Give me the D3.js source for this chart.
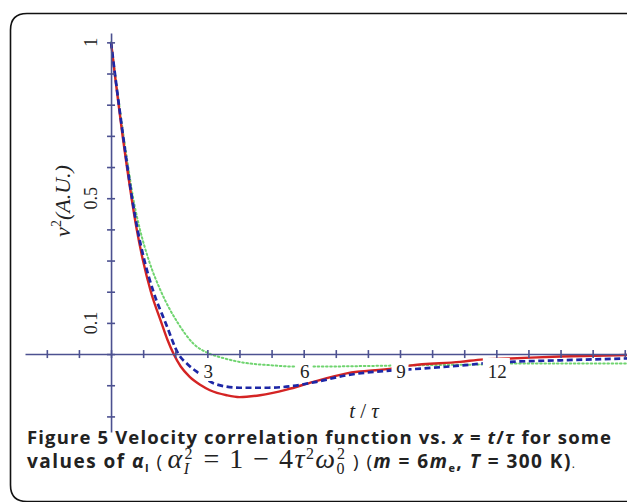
<!DOCTYPE html>
<html>
<head>
<meta charset="utf-8">
<script src="https://cdn.jsdelivr.net/npm/d3@7"></script>
<style>
  html, body { margin: 0; padding: 0; background: #fff; }
  svg { display: block; }
</style>
</head>
<body>
<svg id="chart" width="627" height="502"></svg>
<script>
// values (t in units of tau, v^2 in A.U.)
const tRed   = [0, 0.115, 0.235, 0.36, 0.495, 0.64, 0.8, 0.995, 1.24, 1.57, 1.76, 1.95, 2.17, 2.45, 2.8, 3.08, 3.6, 4.0, 4.64, 5.47, 6.3, 7.34, 8.8, 9.3, 10.87, 11.6, 12.43, 14, 16.07]
const vRed   = [1, 0.9, 0.8, 0.7, 0.6, 0.5, 0.4, 0.3, 0.2, 0.1, 0.045, 0, -0.04, -0.073, -0.1, -0.116, -0.132, -0.138, -0.132, -0.114, -0.089, -0.062, -0.046, -0.037, -0.025, -0.017, -0.014, -0.008, -0.003]

const tBlue  = [0, 0.12, 0.245, 0.375, 0.51, 0.655, 0.825, 1.04, 1.32, 1.7, 2.1, 2.4, 2.74, 3.24, 4.0, 4.9, 5.68, 6.4, 7.34, 8.8, 9.3, 10.87, 11.6, 12.43, 14, 16.07]
const vBlue  = [1, 0.9, 0.8, 0.7, 0.6, 0.5, 0.4, 0.3, 0.2, 0.1, 0, -0.034, -0.062, -0.096, -0.108, -0.108, -0.102, -0.089, -0.068, -0.052, -0.049, -0.037, -0.03, -0.025, -0.02, -0.014]

const tGreen = [0, 0.125, 0.255, 0.39, 0.535, 0.69, 0.9, 1.18, 1.56, 2.08, 2.56, 3.1, 3.5, 4.1, 5.0, 5.7, 6.4, 8.7, 9.3, 11.6, 12.5, 14, 16.07]
const vGreen = [1, 0.9, 0.8, 0.7, 0.6, 0.5, 0.4, 0.3, 0.2, 0.1, 0.034, 0, -0.013, -0.027, -0.036, -0.04, -0.04, -0.037, -0.036, -0.033, -0.03, -0.03, -0.03]

const xTickValues = d3.range(-2, 17)
const yTickValues = d3.range(-2, 11).map(d => d / 10)
const xTickLabels = [3, 6, 9, 12]
const yTickLabels = [1, 0.5, 0.1]

const svg = d3.select("#chart")
const axisColor = "#4c5190"
const textColor = "#222"
const serif = "'Liberation Serif', 'DejaVu Serif', serif"
const sans = "'Open Sans', 'Noto Sans', sans-serif"

const x = d3.scaleLinear().domain([-2.68, 16.07]).range([25, 627])
const y = d3.scaleLinear().domain([-0.25, 1.03]).range([432, 33])

// frame (cropped rounded box)
svg.append("path")
  .attr("d", "M627,13.5 H27 Q10.5,13.5 10.5,30 V485 Q10.5,501.5 27,501.5 H627")
  .attr("fill", "none")
  .attr("stroke", "#111")
  .attr("stroke-width", 1.6)

// curves
const series = [
  { t: tGreen, v: vGreen, color: "#6fd46f", width: 2, dash: "1.6,2.6", cap: "round" },
  { t: tRed, v: vRed, color: "#d42424", width: 2.4, dash: null, cap: "butt" },
  { t: tBlue, v: vBlue, color: "#1d27a6", width: 2.7, dash: "6,3.5", cap: "butt" }
]

const line = d3.line()
  .x(d => x(d[0]))
  .y(d => y(d[1]))
  .curve(d3.curveMonotoneX)

series.forEach(s => {
  svg.append("path")
    .datum(s.t.map((t, i) => [t, s.v[i]]))
    .attr("d", line)
    .attr("fill", "none")
    .attr("stroke", s.color)
    .attr("stroke-width", s.width)
    .attr("stroke-dasharray", s.dash)
    .attr("stroke-linecap", s.cap)
})

// x tick labels with white boxes that mask the curves
const xLab = svg.append("g")
xTickLabels.forEach(v => {
  const w = v >= 10 ? 27 : 17
  xLab.append("rect")
    .attr("x", x(v) - w / 2)
    .attr("y", 358)
    .attr("width", w)
    .attr("height", 23)
    .attr("fill", "#fff")
  xLab.append("text")
    .attr("x", x(v) + 1)
    .attr("y", 378)
    .attr("text-anchor", "middle")
    .attr("font-family", serif)
    .attr("font-size", 19)
    .attr("fill", textColor)
    .text(v)
})

// axes
const xAxis = svg.append("g")
  .attr("transform", `translate(0,${y(0)})`)
  .call(d3.axisBottom(x).tickValues(xTickValues).tickSizeInner(4).tickSizeOuter(0).tickFormat(""))
xAxis.selectAll("line").attr("y1", -4)

const yAxis = svg.append("g")
  .attr("transform", `translate(${x(0)},0)`)
  .call(d3.axisLeft(y).tickValues(yTickValues).tickSizeInner(4).tickSizeOuter(0).tickFormat(""))
yAxis.selectAll("line").attr("x1", 4)

svg.selectAll(".domain, .tick line")
  .attr("stroke", axisColor)
  .attr("stroke-width", 1.6)

// y tick labels (rotated)
yTickLabels.forEach(v => {
  svg.append("text")
    .attr("transform", `translate(97,${y(v)}) rotate(-90)`)
    .attr("text-anchor", "middle")
    .attr("font-family", serif)
    .attr("font-size", 18)
    .attr("fill", textColor)
    .text(v)
})

// axis titles
const yTitle = svg.append("text")
  .attr("transform", "translate(70,201) rotate(-90)")
  .attr("text-anchor", "middle")
  .attr("font-family", serif)
  .attr("font-size", 22)
  .attr("fill", textColor)
yTitle.append("tspan").attr("font-style", "italic").text("v")
yTitle.append("tspan").attr("font-size", 14).attr("dy", -9).text("2")
yTitle.append("tspan").attr("dy", 9).attr("font-style", "italic").text("(A.U.)")

const xTitle = svg.append("text")
  .attr("x", 364)
  .attr("y", 418)
  .attr("text-anchor", "middle")
  .attr("font-family", serif)
  .attr("font-size", 21)
  .attr("fill", textColor)
xTitle.append("tspan").attr("font-style", "italic").text("t")
xTitle.append("tspan").text(" / ")
xTitle.append("tspan").attr("font-style", "italic").text("τ")

// caption, line 1
const cap1 = svg.append("text")
  .attr("x", 27)
  .attr("y", 444)
  .attr("font-family", sans)
  .attr("font-weight", "bold")
  .attr("font-size", 18.5)
  .attr("fill", textColor)
  .attr("textLength", 584)
  .attr("lengthAdjust", "spacing")
const line1 = [
  ["Figure 5 Velocity correlation function vs. ", "normal"],
  ["x", "italic"], [" = ", "normal"], ["t", "italic"], ["/", "normal"],
  ["τ", "italic"], [" for some", "normal"]
]
line1.forEach(([s, st]) => cap1.append("tspan").attr("font-style", st).text(s))

// caption, line 2 (sans text with a serif formula inside)
const cap2 = svg.append("text")
  .attr("x", 27)
  .attr("y", 468)
  .attr("font-family", sans)
  .attr("font-weight", "bold")
  .attr("font-size", 19)
  .attr("fill", textColor)
  .attr("textLength", 548)
  .attr("lengthAdjust", "spacing")
cap2.append("tspan").text("values of ")
cap2.append("tspan").attr("font-style", "italic").text("α")
cap2.append("tspan").attr("font-size", 11).attr("dy", 4).text("I")
cap2.append("tspan").attr("dy", -4).attr("font-weight", "normal").text(" (")

const f = (s, opts) => {
  const t = cap2.append("tspan")
    .attr("font-family", serif)
    .attr("font-weight", "normal")
    .attr("font-size", opts.size || 28)
    .text(s)
  if (opts.italic) t.attr("font-style", "italic")
  if (opts.dy) t.attr("dy", opts.dy)
  if (opts.dx) t.attr("dx", opts.dx)
  return t
}
f("α", { italic: true, dx: 4 })
f("I", { italic: true, size: 16, dy: 6 })
f("2", { size: 16, dx: -6, dy: -15 })
f(" = 1 − 4", { dx: 1, dy: 9 })
f("τ", { italic: true })
f("2", { size: 16, dy: -9 })
f("ω", { italic: true, dy: 9 })
f("0", { size: 16, dy: 6 })
f("2", { size: 16, dx: -9, dy: -15 })

cap2.append("tspan").attr("dy", 9).attr("font-weight", "normal").text(" ) (")
cap2.append("tspan").attr("font-style", "italic").text("m")
cap2.append("tspan").text(" = 6")
cap2.append("tspan").attr("font-style", "italic").text("m")
cap2.append("tspan").attr("font-size", 11).attr("dy", 4).text("e")
cap2.append("tspan").attr("dy", -4).text(", ")
cap2.append("tspan").attr("font-style", "italic").text("T")
cap2.append("tspan").text(" = 300 K)")
cap2.append("tspan").attr("font-weight", "normal").attr("font-size", 12).text(".")
</script>
</body>
</html>
